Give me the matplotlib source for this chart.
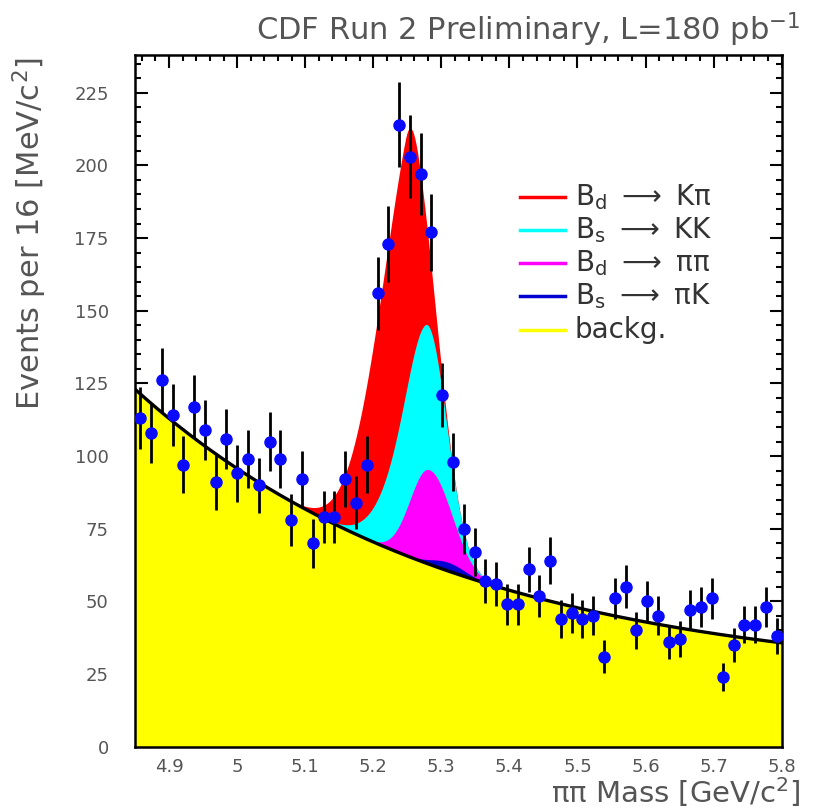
import numpy as np
import matplotlib.pyplot as plt
from matplotlib.ticker import MultipleLocator

# pi-pi invariant mass, 16 MeV bins
bin_lo = 4.8575
bin_step = 0.01585
counts = [113, 108, 126, 114, 97, 117, 109, 91, 106, 94,
          99, 90, 105, 99, 78, 92, 70, 79, 79, 92,
          84, 97, 156, 173, 214, 203, 197, 177, 121, 98,
          75, 67, 57, 56, 49, 49, 61, 52, 64, 44,
          46, 44, 45, 31, 51, 55, 40, 50, 45, 36,
          37, 47, 48, 51, 24, 35, 42, 42, 48, 38]

# fitted background: const + norm * exp(-slope * (m - 4.85))
bg_const = 22.0
bg_norm = 101.0
bg_slope = 2.1

# signal components (bifurcated gaussians), stacked on the background
sig_labels = [r'B$_\mathregular{d}$ $\longrightarrow$ K$\mathregular{\pi}$',
              r'B$_\mathregular{s}$ $\longrightarrow$ KK',
              r'B$_\mathregular{d}$ $\longrightarrow$ $\mathregular{\pi\pi}$',
              r'B$_\mathregular{s}$ $\longrightarrow$ $\mathregular{\pi}$K']
sig_colors = ['#ff0000', '#00ffff', '#ff00ff', '#0000d0']
sig_amp = [88.0, 50.0, 31.0, 3.0]
sig_mean = [5.247, 5.277, 5.280, 5.310]
sig_left = [0.049, 0.045, 0.027, 0.025]
sig_right = [0.023, 0.027, 0.032, 0.025]
bg_label = 'backg.'
bg_color = '#ffff00'

gray = '#555555'
plt.rcParams['font.family'] = ['DejaVu Sans']
plt.rcParams['mathtext.fontset'] = 'dejavusans'


def background(m):
    return bg_const + bg_norm * np.exp(-bg_slope * (m - 4.85))


def bigauss(m, amp, mu, sl, sr):
    s = np.where(m < mu, sl, sr)
    return amp * np.exp(-0.5 * ((m - mu) / s) ** 2)


fig = plt.figure(figsize=(8.13, 8.11), dpi=100)
ax = fig.add_axes([0.1661, 0.0793, 0.7954, 0.8529])

m = np.linspace(4.85, 5.8, 1000)
bg = background(m)
parts = [bigauss(m, a, mu, sl, sr) for a, mu, sl, sr
         in zip(sig_amp, sig_mean, sig_left, sig_right)]

# draw from the total down so each layer covers the one above it
layers = []
level = bg.copy()
for p in parts[::-1]:
    level = level + p
    layers.append(level.copy())
layers = layers[::-1]
for top, col in zip(layers, sig_colors):
    ax.fill_between(m, 0, top, color=col, lw=0, zorder=1)
ax.fill_between(m, 0, bg, color=bg_color, lw=0, zorder=2)
ax.plot(m, bg, color='black', lw=2.4, zorder=3)

x = bin_lo + bin_step * np.arange(len(counts))
y = np.array(counts, dtype=float)
ax.errorbar(x, y, yerr=np.sqrt(y), fmt='o', color='#0a0aff', ms=8,
            ecolor='black', elinewidth=2.0, capsize=0, zorder=4)

ax.set_xlim(4.85, 5.8)
ax.set_ylim(0, 238)
ax.xaxis.set_minor_locator(MultipleLocator(0.02))
ax.yaxis.set_major_locator(MultipleLocator(25))
ax.yaxis.set_minor_locator(MultipleLocator(5))
ax.set_xticks([4.9, 5.0, 5.1, 5.2, 5.3, 5.4, 5.5, 5.6, 5.7, 5.8])
ax.set_xticklabels(['4.9', '5', '5.1', '5.2', '5.3', '5.4', '5.5', '5.6', '5.7', '5.8'])
ax.tick_params(which='both', direction='in', top=True, right=True,
               width=1.5, colors='black', labelcolor=gray, labelsize=13)
ax.tick_params(which='major', length=9)
ax.tick_params(which='minor', length=4.5)
ax.tick_params(axis='x', pad=8)
ax.tick_params(axis='y', pad=19)
for sp in ax.spines.values():
    sp.set_linewidth(1.8)

# legend
leg_y0 = 0.795
leg_dy = 0.048
for i, (lab, col) in enumerate(zip(sig_labels + [bg_label], sig_colors + [bg_color])):
    yy = leg_y0 - i * leg_dy
    ax.plot([0.595, 0.665], [yy, yy], color=col, lw=2.5, transform=ax.transAxes, zorder=5)
    ax.text(0.68, yy, lab, transform=ax.transAxes, fontsize=20, color='#333333',
            va='center', ha='left', zorder=5)

fig.text(0.984, 1 - 30 / 811, r'CDF Run 2 Preliminary, L=180 pb$^{-1}$',
         fontsize=22, color=gray, ha='right', va='center')
fig.text(30 / 813, 1 - 57 / 811, r'Events per 16 [MeV/c$^2$]', rotation=90,
         fontsize=22, color=gray, ha='center', va='top')
fig.text(0.984, 1 - 809 / 811, r'ππ Mass [GeV/c$^2$]',
         fontsize=21, color=gray, ha='right', va='bottom')

fig.savefig('out.png', dpi=100)
